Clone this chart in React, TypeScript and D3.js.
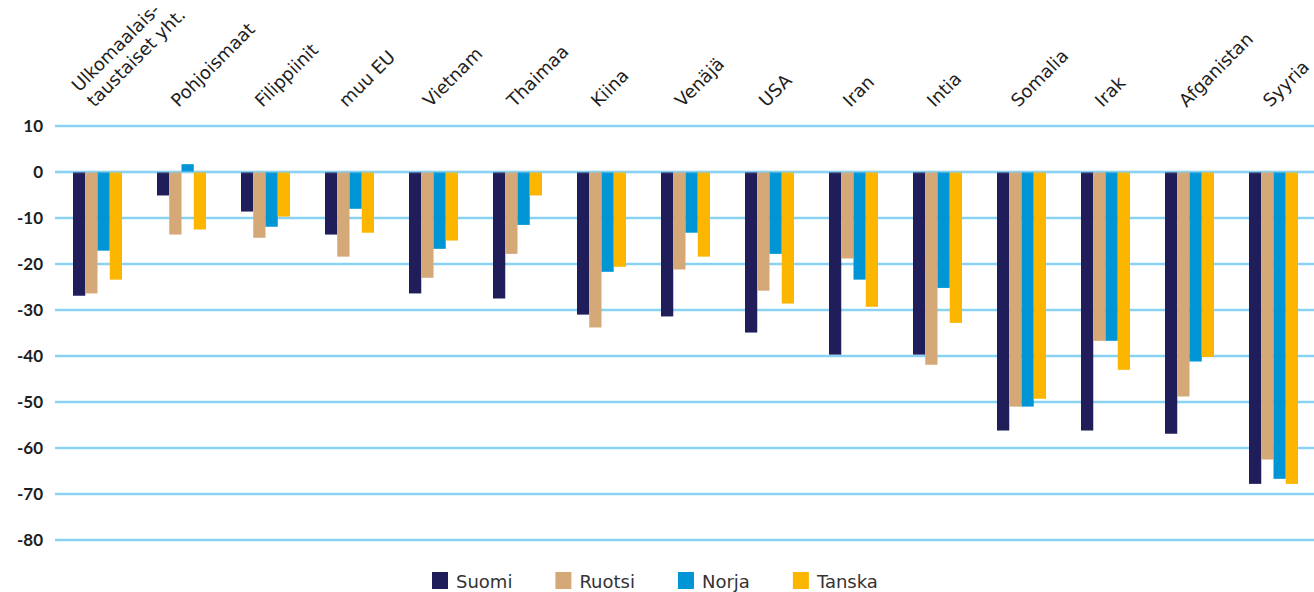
import React, { useEffect, useRef } from "react";
import * as d3 from "d3";

// Categories (country of origin groups) and the four Nordic series, values in %.
const categories = [
  "Ulkomaalais-\ntaustaiset yht.",
  "Pohjoismaat",
  "Filippiinit",
  "muu EU",
  "Vietnam",
  "Thaimaa",
  "Kiina",
  "Venäjä",
  "USA",
  "Iran",
  "Intia",
  "Somalia",
  "Irak",
  "Afganistan",
  "Syyria",
];

const seriesNames = ["Suomi", "Ruotsi", "Norja", "Tanska"];

const suomi = [-26.9, -5.1, -8.6, -13.6, -26.4, -27.5, -31.0, -31.4, -34.9, -39.7, -39.7, -56.2, -56.2, -56.9, -67.8];
const ruotsi = [-26.4, -13.6, -14.3, -18.4, -23.0, -17.8, -33.8, -21.2, -25.8, -18.8, -41.9, -51.0, -36.7, -48.8, -62.5];
const norja = [-17.1, 1.7, -11.9, -8.0, -16.7, -11.5, -21.7, -13.2, -17.8, -23.4, -25.2, -51.0, -36.7, -41.2, -66.7];
const tanska = [-23.4, -12.5, -9.7, -13.2, -14.9, -5.1, -20.6, -18.4, -28.6, -29.3, -32.8, -49.3, -43.0, -40.2, -67.8];

const yTicks = [10, 0, -10, -20, -30, -40, -50, -60, -70, -80];

const colors = ["#201e5a", "#d4a977", "#0096d6", "#fdb600"];

const W = 1314;
const H = 592;
const labelFont = "'DejaVu Sans', sans-serif";
const tickFont = "Lato, 'DejaVu Sans', sans-serif";

export default function App() {
  const ref = useRef<SVGSVGElement | null>(null);

  useEffect(() => {
    const svg = d3.select(ref.current);
    svg.selectAll("*").remove();

    const values = [suomi, ruotsi, norja, tanska];
    const data = categories.map((c, i) => ({
      cat: c,
      vals: seriesNames.map((s, k) => ({ key: s, value: values[k][i], k })),
    }));

    const x0 = d3.scaleBand<string>().domain(categories).range([55.5, 1315.5]).paddingInner(0).paddingOuter(0);
    const groupW = 49;
    const x1 = d3
      .scaleBand<string>()
      .domain(seriesNames)
      .range([(x0.bandwidth() - groupW) / 2, (x0.bandwidth() + groupW) / 2]);
    const y = d3.scaleLinear().domain([10, -80]).range([126, 540]);

    // horizontal gridlines
    svg
      .append("g")
      .selectAll("line")
      .data(yTicks)
      .join("line")
      .attr("x1", 55)
      .attr("x2", W)
      .attr("y1", (d) => y(d))
      .attr("y2", (d) => y(d))
      .attr("stroke", "#8ad2f4")
      .attr("stroke-width", 2.4);

    // tick labels
    svg
      .append("g")
      .selectAll("text")
      .data(yTicks)
      .join("text")
      .attr("x", 43)
      .attr("y", (d) => y(d))
      .attr("dy", "0.35em")
      .attr("text-anchor", "end")
      .attr("font-family", tickFont)
      .attr("font-weight", 700)
      .attr("font-size", 17)
      .attr("fill", "#1e1e1e")
      .text((d) => String(d));

    // bars
    const groups = svg
      .append("g")
      .selectAll("g")
      .data(data)
      .join("g")
      .attr("transform", (d) => `translate(${x0(d.cat)},0)`);

    groups
      .selectAll("rect")
      .data((d) => d.vals)
      .join("rect")
      .attr("x", (d) => x1(d.key)!)
      .attr("width", x1.bandwidth())
      .attr("y", (d) => y(Math.max(0, d.value)))
      .attr("height", (d) => Math.abs(y(d.value) - y(0)))
      .attr("fill", (d) => colors[d.k]);

    // zero line drawn over the bars
    svg
      .append("line")
      .attr("x1", 55)
      .attr("x2", W)
      .attr("y1", y(0))
      .attr("y2", y(0))
      .attr("stroke", "#8ad2f4")
      .attr("stroke-width", 2.4)
      .attr("opacity", 0.45);

    // rotated category labels
    const lab = svg
      .append("g")
      .selectAll("text")
      .data(categories)
      .join("text")
      .attr("transform", (d) => `translate(${x0(d)! + x0.bandwidth() / 2 - 3},108) rotate(-45)`)
      .attr("font-family", labelFont)
      .attr("font-size", 18)
      .attr("fill", "#1e1e1e");

    lab.each(function (d) {
      const lines = d.split("\n");
      const t = d3.select(this);
      lines.forEach((ln, i) => {
        t.append("tspan")
          .attr("x", 0)
          .attr("dy", i === 0 ? `${-(lines.length - 1) * 1.2}em` : "1.2em")
          .text(ln);
      });
    });

    // legend
    const legend = svg.append("g").attr("transform", "translate(432,0)");
    let cx = 0;
    seriesNames.forEach((s, k) => {
      const g = legend.append("g").attr("transform", `translate(${cx},0)`);
      g.append("rect").attr("x", 0).attr("y", 572).attr("width", 16).attr("height", 17).attr("fill", colors[k]);
      const t = g
        .append("text")
        .attr("x", 24)
        .attr("y", 588)
        .attr("font-family", labelFont)
        .attr("font-size", 18)
        .attr("fill", "#333")
        .text(s);
      const w = (t.node() as SVGTextElement).getComputedTextLength();
      cx += 24 + w + 43;
    });
  }, []);

  return (
    <svg
      ref={ref}
      width={W}
      height={H}
      viewBox={`0 0 ${W} ${H}`}
      style={{ position: "absolute", left: 0, top: 0, display: "block", background: "#fff" }}
    />
  );
}
